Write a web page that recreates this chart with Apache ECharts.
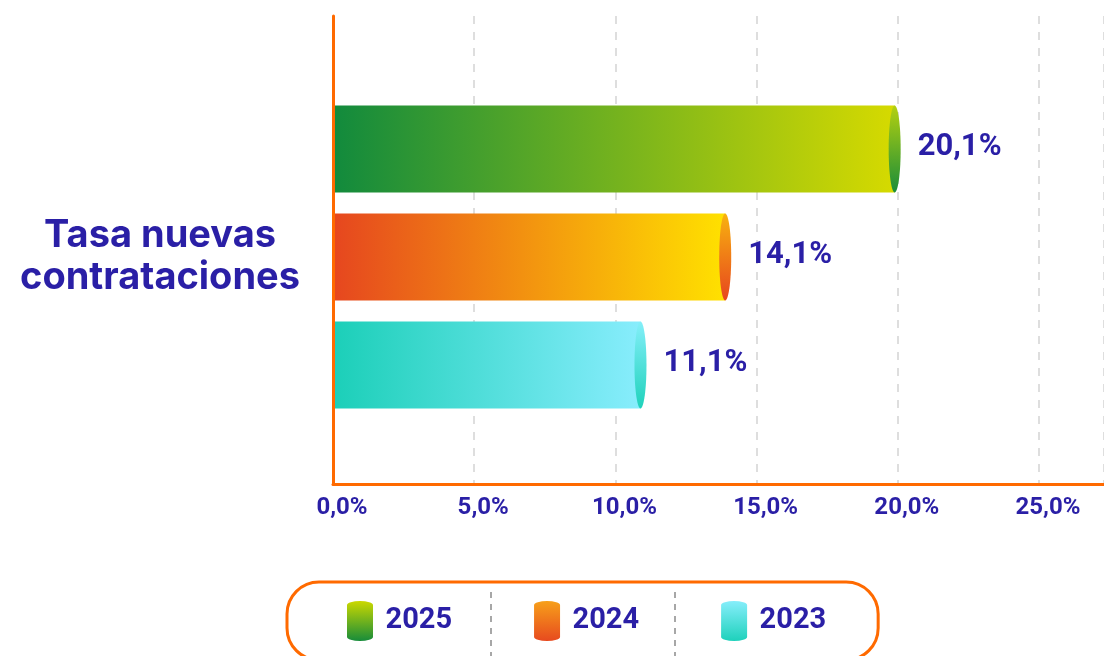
<!DOCTYPE html>
<html>
<head>
<meta charset="utf-8">
<style>
  html, body { margin: 0; padding: 0; background: #ffffff; }
  #chart { width: 1104px; height: 656px; }
</style>
<script src="https://cdn.jsdelivr.net/npm/echarts@6/dist/echarts.min.js"></script>
</head>
<body>
<div id="chart"></div>
<script>
// Rate of new hires by year
const categories = ['Tasa nuevas\ncontrataciones'];
const years = ['2025', '2024', '2023'];
const rates = [20.1, 14.1, 11.1];
const xTicks = [0, 5, 10, 15, 20, 25];
const axisMax = 27.3;

const INK = '#2a1fa6';
const ORANGE = '#ff6a00';
const FONT = 'Inter, "DejaVu Sans", sans-serif';
const NUM_FONT = 'Roboto, "DejaVu Sans", sans-serif';

// Bar body (left -> right), end cap (top -> bottom), legend icon (top -> bottom)
const palettes = {
  '2025': { body: ['#118a3d', '#d6da00'], cap: ['#b4d010', '#1a8d39'], icon: ['#cbd800', '#178c3a'] },
  '2024': { body: ['#e6461f', '#ffe100'], cap: ['#f8b20f', '#e7461e'], icon: ['#f7a01a', '#e74a1f'] },
  '2023': { body: ['#1bcfb8', '#88edfd'], cap: ['#84eff9', '#1fd2bb'], icon: ['#86eefb', '#1ed1bb'] }
};

const BAR_H = 87;
const BAR_PITCH = 108;
const GROUP_SHIFT = 7;
const CAP_RX = 6;

const fmtPct = v => v.toFixed(1).replace('.', ',') + '%';

function lin(x1, y1, x2, y2, stops) {
  return new echarts.graphic.LinearGradient(x1, y1, x2, y2, [
    { offset: 0, color: stops[0] },
    { offset: 1, color: stops[1] }
  ]);
}

function makeRenderer(seriesIdx, pal) {
  return function (params, api) {
    const v = api.value(0);
    const cat = api.value(1);
    const p0 = api.coord([0, cat]);
    const p1 = api.coord([v, cat]);
    const cy = p0[1] + GROUP_SHIFT + (seriesIdx - 1) * BAR_PITCH;
    const top = cy - BAR_H / 2;
    const capCx = p1[0] - CAP_RX;
    return {
      type: 'group',
      children: [
        {
          type: 'rect',
          shape: { x: p0[0] - 1, y: top, width: capCx - p0[0] + 1, height: BAR_H },
          style: { fill: lin(0, 0, 1, 0, pal.body) }
        },
        {
          type: 'ellipse',
          shape: { cx: capCx, cy: cy, rx: CAP_RX, ry: BAR_H / 2 },
          style: { fill: lin(0, 0, 0, 1, pal.cap) }
        },
        {
          type: 'text',
          x: p1[0] + 17,
          y: cy - 2,
          style: {
            text: fmtPct(v),
            fill: INK,
            font: 'bold 31px ' + NUM_FONT,
            verticalAlign: 'middle',
            align: 'left'
          }
        }
      ]
    };
  };
}

const series = years.map((y, i) => ({
  type: 'custom',
  name: y,
  renderItem: makeRenderer(i, palettes[y]),
  itemStyle: { color: lin(0, 0, 0, 1, palettes[y].icon) },
  encode: { x: 0, y: 1 },
  data: [[rates[i], 0]],
  z: 2
}));

const chart = echarts.init(document.getElementById('chart'), null, { renderer: 'canvas' });

chart.setOption({
  animation: false,
  backgroundColor: '#ffffff',
  grid: { left: 333, right: 0, top: 16, bottom: 172, containLabel: false },
  xAxis: {
    type: 'value',
    min: xTicks[0],
    max: axisMax,
    interval: xTicks[1] - xTicks[0],
    axisLine: { show: true, lineStyle: { color: ORANGE, width: 3 } },
    axisTick: { show: false },
    splitLine: { show: true, lineStyle: { color: '#d3d3d3', width: 1.5, type: [8, 8] } },
    axisLabel: {
      margin: 12,
      color: INK,
      fontFamily: NUM_FONT,
      fontWeight: 'bold',
      fontSize: 24,
      padding: [0, 0, 0, 18],
      showMaxLabel: false,
      formatter: v => (xTicks.indexOf(v) >= 0 ? fmtPct(v) : '')
    },
    z: 1
  },
  yAxis: {
    type: 'category',
    data: categories,
    axisLine: { show: true, lineStyle: { color: ORANGE, width: 3 } },
    axisTick: { show: false },
    splitLine: { show: false },
    axisLabel: {
      margin: 173,
      align: 'center',
      verticalAlign: 'middle',
      formatter: v => v.split('\n').map(s => '{t|' + s + '}').join('\n'),
      padding: [14, 0, 0, 0],
      rich: {
        t: {
          color: INK,
          fontFamily: FONT,
          fontWeight: 'bold',
          fontSize: 38,
          lineHeight: 42,
          align: 'center'
        }
      }
    },
    z: 10
  },
  legend: {
    data: years,
    left: 287,
    top: 582,
    orient: 'horizontal',
    selectedMode: false,
    icon: 'path://M0,4 A13,4 0 0 1 26,4 L26,36 A13,4 0 0 1 0,36 Z',
    itemWidth: 27,
    itemHeight: 40,
    itemGap: 82,
    padding: [19, 52, 19, 60],
    borderColor: ORANGE,
    borderWidth: 3,
    borderRadius: 32,
    textStyle: {
      color: INK,
      fontFamily: NUM_FONT,
      fontWeight: 'bold',
      fontSize: 29,
      padding: [0, 0, 0, 7]
    }
  },
  graphic: [
    { type: 'line', shape: { x1: 491, y1: 592, x2: 491, y2: 656 }, style: { stroke: '#8a8a8a', lineWidth: 1.5, lineDash: [6, 6] }, silent: true },
    { type: 'line', shape: { x1: 675, y1: 592, x2: 675, y2: 656 }, style: { stroke: '#8a8a8a', lineWidth: 1.5, lineDash: [6, 6] }, silent: true }
  ],
  series: series
});
</script>
</body>
</html>
